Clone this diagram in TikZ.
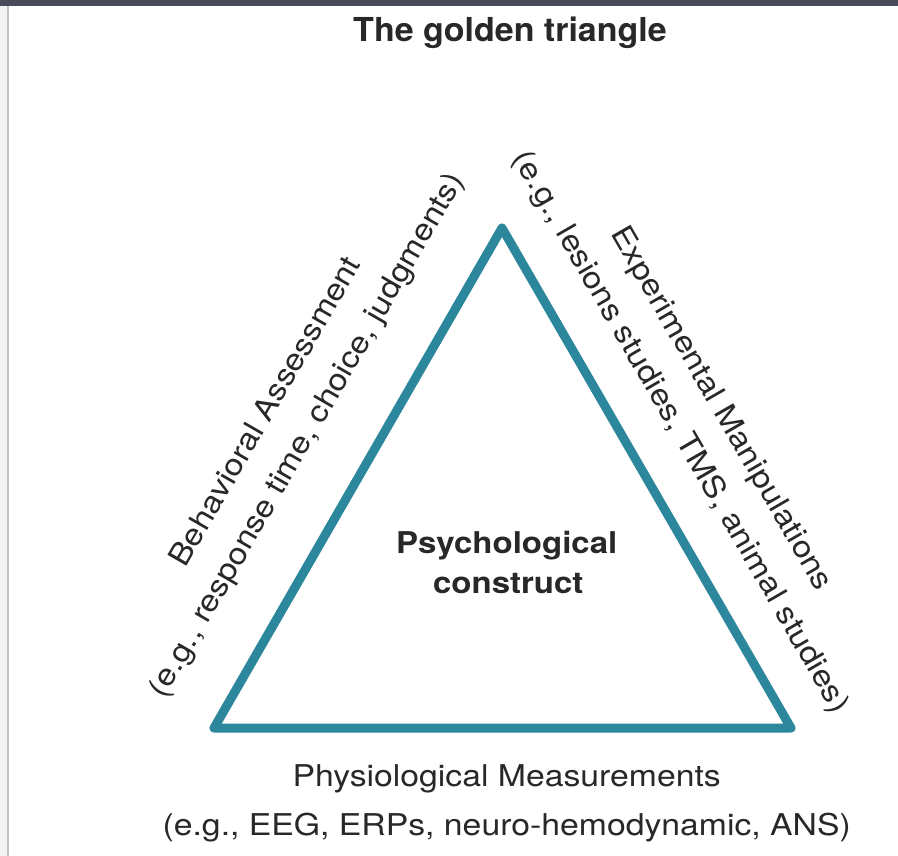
\documentclass[tikz,border=0pt]{standalone}
\usepackage{fontspec}
\setmainfont{TeX Gyre Heros}
\newfontfamily\bodyfont[FakeStretch=1.125]{TeX Gyre Heros}
\newfontfamily\midfont[FakeStretch=1.1]{TeX Gyre Heros}
\newfontfamily\headfont[FakeStretch=1.03]{TeX Gyre Heros}
\definecolor{edgeteal}{RGB}{44,135,156}
\definecolor{barcol}{RGB}{71,76,88}
\definecolor{stripcol}{RGB}{242,242,242}
\definecolor{linecol}{RGB}{192,196,200}
\definecolor{txt}{RGB}{40,40,40}
\tikzset{
  sidelabel/.style={inner sep=0pt, anchor=base, text=txt, font=\bodyfont\fontsize{30}{48}\selectfont},
  midlabel/.style={inner sep=0pt, anchor=base, text=txt, font=\midfont\bfseries\fontsize{30}{40}\selectfont},
  headlabel/.style={inner sep=0pt, anchor=base, text=txt, font=\headfont\bfseries\fontsize{33}{40}\selectfont},
  tri/.style={draw=edgeteal, line width=9pt, line join=round}
}
\begin{document}
\begin{tikzpicture}[x=1pt, y=-1pt]
\useasboundingbox (0,0) rectangle (898,856);
\fill[white] (0,0) rectangle (898,856);
\fill[barcol] (0,0) rectangle (898,6);
\fill[stripcol] (0,6) rectangle (7,856);
\fill[linecol] (7,6) rectangle (9,856);
% triangle
\coordinate (apex) at (502,228);
\coordinate (bl) at (214,728);
\coordinate (br) at (791,728);
\draw[tri] (apex) -- (bl) -- (br) -- cycle;
% title
\node[headlabel] (title) at (510,41.7) {The golden triangle};
% centre
\node[midlabel] (psy1) at (506.7,553.3) {Psychological};
\node[midlabel] (psy2) at (508.3,593.3) {construct};
% bottom
\node[sidelabel] (phys1) at (506.7,786.7) {Physiological Measurements};
\node[sidelabel] (phys2) at (506.7,835) {(e.g., EEG, ERPs, neuro-hemodynamic, ANS)};
% left
\node[sidelabel, rotate=60] (beh1) at (273.6,416.2) {Behavioral Assessment};
\node[sidelabel, rotate=60] (beh2) at (314.3,439.7) {(e.g., response time, choice, judgments)};
% right
\node[sidelabel, rotate=-60] (exp1) at (713.8,412.9) {Experimental Manipulations};
\node[sidelabel, rotate=-60] (exp2) at (673.1,436.4) {(e.g., lesions studies, TMS, animal studies)};
\end{tikzpicture}
\end{document}
